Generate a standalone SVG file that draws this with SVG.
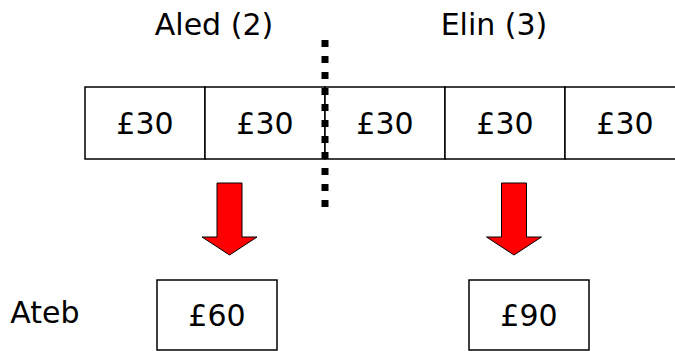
<svg xmlns="http://www.w3.org/2000/svg" width="675" height="351" viewBox="0 0 675 351">
<style>
text{font-family:"DejaVu Sans","Liberation Sans",sans-serif;font-size:30px;fill:#000;text-anchor:middle}
.box{fill:#fff;stroke:#000;stroke-width:1.5}
.arrow{fill:#ff0000;stroke:#000;stroke-width:1}
</style>
<rect width="675" height="351" fill="#fff"/>
<g id="label-aled"><text x="214" y="35">Aled (2)</text></g>
<g id="label-elin"><text x="494" y="35">Elin (3)</text></g>
<g id="bar">
<rect class="box" x="85" y="87" width="120" height="72"/>
<rect class="box" x="205" y="87" width="120" height="72"/>
<rect class="box" x="325" y="87" width="120" height="72"/>
<rect class="box" x="445" y="87" width="120" height="72"/>
<rect class="box" x="565" y="87" width="120" height="72"/>
<text x="145" y="134">£30</text>
<text x="265" y="134">£30</text>
<text x="385" y="134">£30</text>
<text x="505" y="134">£30</text>
<text x="625" y="134">£30</text>
</g>
<g id="divider"><line x1="325" y1="40" x2="325" y2="207" stroke="#000" stroke-width="7" stroke-dasharray="7 9"/></g>
<g id="connectors">
<polygon class="arrow" points="217,183 242,183 242,237 257,237 229.5,255 202,237 217,237"/>
<polygon class="arrow" points="501.5,183 526.5,183 526.5,237 541.5,237 514,255 486.5,237 501.5,237"/>
</g>
<g id="label-ateb"><text x="45" y="323">Ateb</text></g>
<g id="answer-aled"><rect class="box" x="157" y="280" width="120" height="70"/><text x="217" y="326">£60</text></g>
<g id="answer-elin"><rect class="box" x="469" y="280" width="120" height="70"/><text x="529" y="326">£90</text></g>
</svg>
